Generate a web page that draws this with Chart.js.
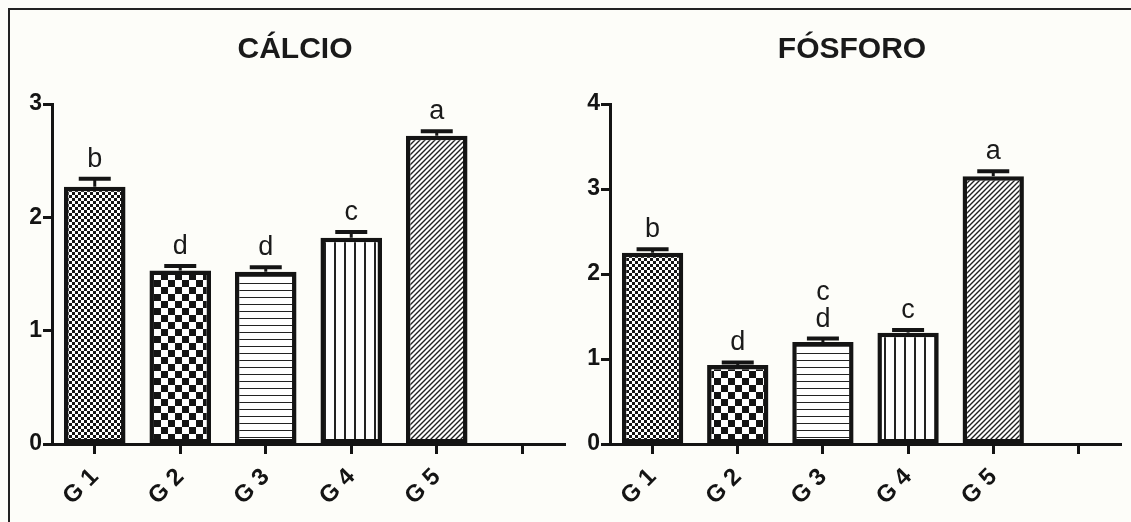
<!DOCTYPE html>
<html>
<head>
<meta charset="utf-8">
<script src="https://cdn.jsdelivr.net/npm/chart.js@4.4.0/dist/chart.umd.min.js"></script>
<style>
  body { margin: 0; background: #fdfdf9; }
  #wrap { position: relative; width: 1131px; height: 522px; overflow: hidden; }
  #frame { position: absolute; left: 8px; top: 8px; width: 1140px; height: 530px; border-top: 2px solid #222; border-left: 2px solid #222; }
  canvas { position: absolute; top: 0; }
</style>
</head>
<body>
<div id="wrap">
  <div id="frame"></div>
  <canvas id="chartCalcio" width="590" height="522" style="left:0px"></canvas>
  <canvas id="chartFosforo" width="571" height="522" style="left:560px"></canvas>
</div>
<script>
// dados
var grupos = ['G 1', 'G 2', 'G 3', 'G 4', 'G 5', ''];

var calcio = [2.27, 1.53, 1.52, 1.82, 2.72, null];
var calcioErro = [0.07, 0.04, 0.04, 0.05, 0.04, null];
var calcioLetras = ['b', 'd', 'd', 'c', 'a', ''];
var calcioTicks = [0, 1, 2, 3];

var fosforo = [2.25, 0.93, 1.20, 1.31, 3.15, null];
var fosforoErro = [0.04, 0.03, 0.04, 0.03, 0.06, null];
var fosforoLetras = ['b', 'd', 'c\nd', 'c', 'a', ''];
var fosforoTicks = [0, 1, 2, 3, 4];

var fonte = '"Liberation Sans", Arial, sans-serif';
var preto = '#141414';

// hachuras das barras
function hachura(tipo) {
    var c = document.createElement('canvas');
    var g = c.getContext('2d');
    if (tipo == 'pontos') {
        c.width = 6; c.height = 6;
        g.fillStyle = '#fff'; g.fillRect(0, 0, 6, 6);
        g.fillStyle = preto;
        g.fillRect(0, 0, 3, 3); g.fillRect(3, 3, 3, 3);
    } else if (tipo == 'xadrez') {
        c.width = 14; c.height = 14;
        g.fillStyle = '#fff'; g.fillRect(0, 0, 14, 14);
        g.fillStyle = preto;
        g.fillRect(0, 0, 7, 7); g.fillRect(7, 7, 7, 7);
    } else if (tipo == 'horizontal') {
        c.width = 4; c.height = 7;
        g.fillStyle = '#fff'; g.fillRect(0, 0, 4, 7);
        g.fillStyle = '#222';
        g.fillRect(0, 3, 4, 1);
    } else if (tipo == 'vertical') {
        c.width = 10; c.height = 4;
        g.fillStyle = '#fff'; g.fillRect(0, 0, 10, 4);
        g.fillStyle = '#222';
        g.fillRect(4, 0, 2, 4);
    } else {
        c.width = 5; c.height = 5;
        g.fillStyle = '#fff'; g.fillRect(0, 0, 5, 5);
        g.strokeStyle = '#222';
        g.lineWidth = 1.4;
        g.beginPath();
        g.moveTo(-1, 6); g.lineTo(6, -1);
        g.moveTo(-1, 1); g.lineTo(1, -1);
        g.moveTo(4, 6); g.lineTo(6, 4);
        g.stroke();
    }
    return g.createPattern(c, 'repeat');
}

// barras de erro (so para cima) e letras
var barrasErro = {
    id: 'barrasErro',
    afterDatasetsDraw: function(chart) {
        var ctx = chart.ctx;
        var ds = chart.data.datasets[0];
        var y = chart.scales.y;
        ctx.save();
        chart.getDatasetMeta(0).data.forEach(function(bar, i) {
            if (ds.data[i] == null) return;
            var topo = y.getPixelForValue(ds.data[i] + ds.erro[i]);
            ctx.strokeStyle = preto;
            ctx.lineCap = 'butt';
            ctx.lineWidth = 3;
            ctx.beginPath(); ctx.moveTo(bar.x, bar.y); ctx.lineTo(bar.x, topo); ctx.stroke();
            ctx.lineWidth = 4;
            ctx.beginPath(); ctx.moveTo(bar.x - 16, topo); ctx.lineTo(bar.x + 16, topo); ctx.stroke();

            ctx.fillStyle = '#1a1a1a';
            ctx.font = '27px ' + fonte;
            ctx.textAlign = 'center';
            ctx.textBaseline = 'alphabetic';
            var linhas = ds.letras[i].split('\n');
            var base = topo - 12;
            for (var k = linhas.length - 1; k >= 0; k--) {
                ctx.fillText(linhas[k], bar.x, base);
                base -= 27;
            }
        });
        ctx.restore();
    }
};

function grafico(id, titulo, valores, erros, letras, ticks, padEsq, padDir) {
    return new Chart(document.getElementById(id), {
        type: 'bar',
        data: {
            labels: grupos,
            datasets: [{
                data: valores,
                erro: erros,
                letras: letras,
                backgroundColor: [hachura('pontos'), hachura('xadrez'), hachura('horizontal'), hachura('vertical'), hachura('diagonal'), '#fff'],
                borderColor: preto,
                borderWidth: 4.5,
                borderSkipped: false,
                barPercentage: 0.72,
                categoryPercentage: 1
            }]
        },
        options: {
            responsive: false,
            animation: false,
            layout: { padding: { left: padEsq, right: padDir, top: 0, bottom: 0 } },
            plugins: {
                legend: { display: false },
                tooltip: { enabled: false },
                title: {
                    display: true,
                    text: titulo,
                    color: '#1a1a1a',
                    font: { family: fonte, size: 30, weight: 'bold', lineHeight: 1.2 },
                    padding: { top: 32, bottom: 36 }
                }
            },
            scales: {
                x: {
                    grid: { drawOnChartArea: false, offset: false, tickLength: 10, tickWidth: 3, tickColor: preto },
                    border: { color: preto, width: 3 },
                    ticks: { color: preto, font: { family: fonte, size: 24, weight: 'bold' }, maxRotation: 45, minRotation: 45, padding: 9, autoSkip: false },
                    afterFit: function(s) { s.height = 78; }
                },
                y: {
                    min: 0,
                    max: ticks[ticks.length - 1],
                    afterBuildTicks: function(s) { s.ticks = ticks.map(function(v) { return { value: v }; }); },
                    grid: { drawOnChartArea: false, tickLength: 9, tickWidth: 3, tickColor: preto },
                    border: { color: preto, width: 3 },
                    ticks: { color: preto, font: { family: fonte, size: 23, weight: 'bold' }, padding: 1 },
                    afterFit: function(s) { s.width = 27; }
                }
            }
        },
        plugins: [barrasErro]
    });
}

grafico('chartCalcio', 'CÁLCIO', calcio, calcioErro, calcioLetras, calcioTicks, 25, 25);
grafico('chartFosforo', 'FÓSFORO', fosforo, fosforoErro, fosforoLetras, fosforoTicks, 23, 10);
</script>
</body>
</html>
